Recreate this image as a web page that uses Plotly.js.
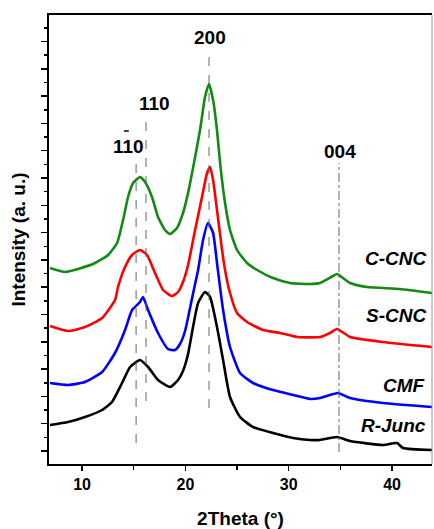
<!DOCTYPE html>
<html>
<head>
<meta charset="utf-8">
<script src="https://cdn.plot.ly/plotly-3.0.1.min.js"></script>
<style>html,body{margin:0;padding:0;background:#fff;}#chart{width:434px;height:529px;}</style>
</head>
<body>
<div id="chart"></div>
<script>
// 2Theta (degrees) and intensity (a.u.)
const ccncX = [6.9, 8.35, 9.61, 11.26, 12.52, 13.39, 13.97, 14.45, 14.94, 15.61, 16.10, 16.77, 17.35, 18.03, 18.52, 19.19, 19.77, 20.26, 20.74, 21.42, 21.90, 22.29, 22.68, 23.06, 23.36, 23.84, 24.32, 25.00, 25.97, 26.94, 28.48, 30.13, 32.07, 33.03, 34.29, 34.68, 35.94, 37.58, 40.77, 43.87];
const ccncY = [1960, 1920, 1950, 2010, 2090, 2210, 2440, 2670, 2810, 2870, 2820, 2670, 2470, 2340, 2300, 2360, 2510, 2710, 2960, 3340, 3670, 3800, 3640, 3340, 3010, 2610, 2340, 2140, 2010, 1940, 1860, 1810, 1800, 1810, 1880, 1900, 1810, 1770, 1750, 1710];

const scncX = [6.9, 8.65, 10.29, 11.94, 13.19, 13.48, 14.16, 14.84, 15.61, 16.29, 17.06, 17.84, 18.71, 19.29, 19.77, 20.26, 20.94, 21.61, 22.10, 22.39, 22.68, 23.06, 23.55, 23.84, 24.32, 25.00, 25.97, 27.52, 29.16, 30.81, 33.03, 34.00, 34.68, 35.94, 39.13, 43.87];
const scncY = [1380, 1330, 1370, 1460, 1640, 1770, 1970, 2090, 2140, 2090, 1910, 1740, 1680, 1720, 1820, 1990, 2340, 2670, 2910, 2970, 2840, 2540, 2140, 1940, 1710, 1510, 1420, 1340, 1310, 1270, 1270, 1310, 1350, 1270, 1220, 1170];

const cmfX = [6.9, 8.65, 10.29, 11.94, 13.19, 14.16, 14.84, 15.61, 15.90, 16.39, 17.35, 18.32, 19.00, 19.48, 19.97, 20.45, 20.94, 21.23, 21.71, 22.19, 22.68, 23.06, 23.65, 24.32, 25.29, 26.55, 28.48, 30.42, 32.07, 33.03, 34.00, 34.77, 35.94, 39.13, 43.87];
const cmfY = [810, 790, 820, 920, 1110, 1340, 1540, 1620, 1670, 1540, 1310, 1150, 1140, 1200, 1330, 1560, 1800, 1940, 2240, 2410, 2310, 2010, 1540, 1170, 910, 810, 740, 690, 650, 660, 690, 710, 660, 610, 570];

const rjuncX = [6.9, 8.65, 10.29, 11.94, 12.90, 13.87, 14.65, 15.61, 16.39, 17.35, 18.52, 19.29, 19.77, 20.26, 20.74, 21.23, 21.90, 22.39, 23.06, 23.65, 24.32, 25.29, 26.55, 28.48, 30.42, 32.07, 33.03, 34.68, 35.94, 39.13, 40.48, 41.07, 43.87];
const rjuncY = [390, 420, 470, 540, 620, 810, 970, 1040, 970, 840, 770, 840, 930, 1100, 1370, 1610, 1720, 1670, 1370, 1040, 670, 470, 370, 310, 260, 240, 240, 270, 230, 190, 210, 160, 140];

const seriesNames = ["C-CNC", "S-CNC", "CMF", "R-Junc"];
const seriesColors = ["#138a13", "#ff0000", "#0000ff", "#000000"];
const labelY = [2060, 1490, 790, 390];

// Miller index reference lines
const peakLabels = ["110", "110", "200", "004"];
const peakX = [15.23, 16.19, 22.29, 34.87];
const peakLineTop = [3090, 3510, 4080, 3010];
const peakLineBottom = [210, 630, 560, 120];

const xs = [ccncX, scncX, cmfX, rjuncX];
const ys = [ccncY, scncY, cmfY, rjuncY];

const font = "Liberation Sans, Arial, Helvetica, sans-serif";

const traces = xs.map((x, i) => ({
  x: x, y: ys[i], type: "scatter", mode: "lines", name: seriesNames[i],
  line: {color: seriesColors[i], width: 2.6, shape: "spline", smoothing: 0.5},
  hoverinfo: "skip"
}));

const shapes = peakX.map((px, i) => ({
  type: "line", xref: "x", yref: "y", x0: px, x1: px, y0: peakLineBottom[i], y1: peakLineTop[i],
  line: {color: "#666", width: 1, dash: i === 3 ? "dashdot" : "dash"}
}));
shapes.push({type: "line", xref: "paper", yref: "paper", x0: 1, x1: 1, y0: 0, y1: 1, line: {color: "#999", width: 1}});
// overbar of the (-1 1 0) index
shapes.push({type: "line", xref: "x", yref: "y", x0: 14.06, x1: 14.52, y0: 3330, y1: 3330, line: {color: "#000", width: 1.5}});

const annotations = [];
seriesNames.forEach((n, i) => {
  annotations.push({x: 43.48, y: labelY[i], xref: "x", yref: "y", text: n, showarrow: false,
    xanchor: "right", yanchor: "middle",
    font: {family: font, size: 19, color: "#000", weight: "bold", style: "italic"}});
});
// hkl labels
const hklPos = [[14.45, 3180], [16.97, 3610], [22.39, 4270], [34.97, 3130]];
peakLabels.forEach((t, i) => {
  annotations.push({x: hklPos[i][0], y: hklPos[i][1], xref: "x", yref: "y", text: t, showarrow: false,
    font: {family: font, size: 19, color: "#000", weight: "bold"}});
});

const layout = {
  width: 434, height: 529,
  margin: {l: 49, r: 2, t: 15, b: 65},
  paper_bgcolor: "#fff", plot_bgcolor: "#fff",
  showlegend: false,
  font: {family: font, color: "#000"},
  xaxis: {
    range: [6.8, 43.87], showgrid: false, zeroline: false,
    showline: true, linecolor: "#000", linewidth: 2, mirror: true,
    ticks: "outside", ticklen: 5, tickwidth: 1.5, tickcolor: "#000",
    tickvals: [10, 20, 30, 40],
    minor: {dtick: 5, tick0: 0, ticks: "outside", ticklen: 4, tickwidth: 1.5, tickcolor: "#000", showgrid: false},
    tickfont: {family: font, size: 16, color: "#000", weight: "bold"},
    title: {text: "2Theta (°)", font: {family: font, size: 19, color: "#000", weight: "bold"}, standoff: 22}
  },
  yaxis: {
    range: [0, 4490], showgrid: false, zeroline: false,
    showline: true, linecolor: "#000", linewidth: 2,
    showticklabels: false,
    ticks: "outside", ticklen: 6, tickwidth: 1.5, tickcolor: "#000",
    tick0: 130, dtick: 273,
    minor: {dtick: 136.5, tick0: 130, ticks: "outside", ticklen: 3, tickwidth: 1.5, tickcolor: "#000", showgrid: false},
    title: {text: "Intensity (a. u.)", font: {family: font, size: 19, color: "#000", weight: "bold"}, standoff: 10}
  },
  shapes: shapes,
  annotations: annotations
};

Plotly.newPlot("chart", traces, layout, {displayModeBar: false, staticPlot: true});
</script>
</body>
</html>
